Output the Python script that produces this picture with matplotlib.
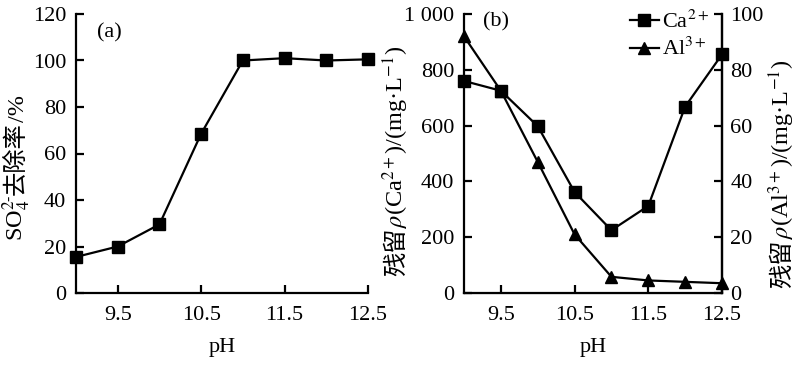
import matplotlib
matplotlib.use('Agg')
import matplotlib.pyplot as plt
from matplotlib.ticker import FuncFormatter

# 字体：西文用 Times 风格，中文用 Noto CJK
plt.rcParams['font.family'] = ['Liberation Serif', 'Noto Sans CJK SC']
plt.rcParams['mathtext.fontset'] = 'stix'
plt.rcParams['axes.unicode_minus'] = False

# 数据
ph = [9.0, 9.5, 10.0, 10.5, 11.0, 11.5, 12.0, 12.5]
so4_removal = [15.5, 20, 29.5, 68.5, 100, 101, 100, 100.5]
ca_residual = [760, 725, 598, 362, 225, 312, 668, 855]
al_residual = [92, 72.5, 47, 21, 5.8, 4.5, 4, 3.5]
xticks = [9.5, 10.5, 11.5, 12.5]

W, H = 804, 369
fs = 16
lw = 1.6
fig = plt.figure(figsize=(W / 100, H / 100), dpi=100)
ax1 = fig.add_axes([76 / W, 1 - 293 / H, 292 / W, 279 / H])
ax2 = fig.add_axes([464 / W, 1 - 293 / H, 258 / W, 279 / H])


def style(ax):
    ax.spines['top'].set_visible(False)
    ax.spines['right'].set_visible(False)
    for s in ax.spines.values():
        s.set_linewidth(lw)
    ax.tick_params(direction='in', length=6, width=lw, labelsize=fs)
    ax.tick_params(axis='x', pad=9)
    ax.tick_params(axis='y', pad=7)
    ax.set_xlim(9.0, 12.5)
    ax.set_xticks(xticks)
    ax.set_xticklabels([str(t) for t in xticks])
    ax.set_xlabel('pH', fontsize=fs, labelpad=10)


# 竖排标签：中文和公式分段拼接（mathtext 不能回退到中文字体）
def vlabel(x_px, yc_px, pieces, size):
    texts = []
    for s, fam in pieces:
        kw = {'family': fam} if fam else {}
        texts.append(fig.text(0, 0, s, rotation=90, rotation_mode='anchor',
                              ha='left', va='baseline', fontsize=size, **kw))
    r = fig.canvas.get_renderer()
    hs = [t.get_window_extent(r).height for t in texts]
    y = (H - yc_px) - sum(hs) / 2
    for t, h in zip(texts, hs):
        t.set_position((x_px / W, y / H))
        y += h


cjk = 'Noto Sans CJK SC'

# (a)
style(ax1)
ax1.plot(ph, so4_removal, 'k-', marker='s', ms=8.5, lw=lw, clip_on=False)
ax1.set_ylim(0, 120)
ax1.set_yticks(range(0, 121, 20))
ax1.text(9.25, 112, '(a)', fontsize=fs, va='center')
vlabel(24, 168, [('SO$_4^{2\\text{-}}$', None), ('去除率', cjk), ('/%', None)], 17.5)

# (b)
style(ax2)
ax2.spines['right'].set_visible(True)
l1, = ax2.plot(ph, ca_residual, 'k-', marker='s', ms=8.5, lw=lw, clip_on=False,
               label='Ca$^{2+}$')
ax2.set_ylim(0, 1000)
ax2.set_yticks(range(0, 1001, 200))
ax2.yaxis.set_major_formatter(FuncFormatter(
    lambda v, p: '1 000' if v == 1000 else f'{int(v)}'))
ax2.text(9.26, 972, '(b)', fontsize=fs, va='center')
vlabel(403, 161, [('残留', cjk), ('$\\rho$(Ca$^{2+}$)/(mg·L$^{-1}$)', None)], 17.5)

ax3 = ax2.twinx()
ax3.spines['top'].set_visible(False)
ax3.spines['left'].set_visible(False)
ax3.spines['right'].set_linewidth(lw)
ax3.tick_params(direction='in', length=6, width=lw, labelsize=fs, pad=6)
l2, = ax3.plot(ph, al_residual, 'k-', marker='^', ms=8.5, lw=lw, clip_on=False,
               label='Al$^{3+}$')
ax3.set_ylim(0, 100)
ax3.set_yticks(range(0, 101, 20))
vlabel(789, 174, [('残留', cjk), ('$\\rho$(Al$^{3+}$)/(mg·L$^{-1}$)', None)], 17.5)

ax3.legend(handles=[l1, l2], loc='upper right', frameon=False, fontsize=fs,
           handlelength=1.3, handletextpad=0.15, borderaxespad=0.0,
           labelspacing=0.25, bbox_to_anchor=(0.985, 1.045))

fig.savefig('out.png', dpi=100)
